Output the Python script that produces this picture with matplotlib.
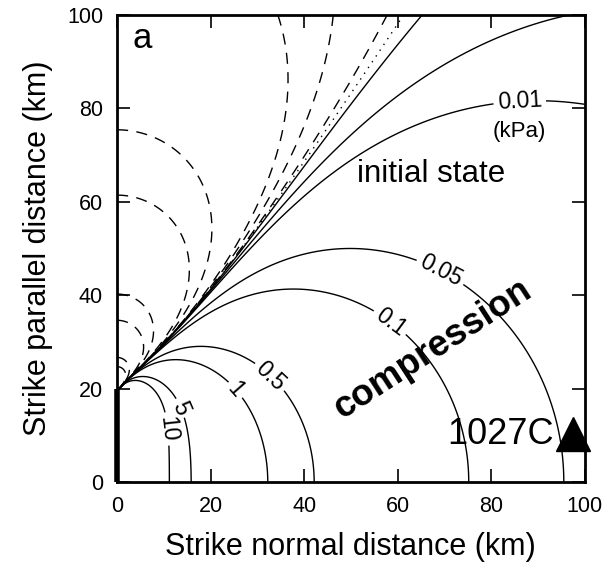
import numpy as np
import matplotlib
matplotlib.use("Agg")
import matplotlib.pyplot as plt

plt.rcParams['font.family'] = ['Liberation Sans', 'DejaVu Sans']

# ---------------- data ----------------
pos_levels = [0.001, 0.005, 0.01, 0.05, 0.1, 0.5, 1, 5, 10]          # kPa, compression
neg_levels = [-10, -5, -1, -0.5, -0.1, -0.05, -0.01, -0.005, -0.001]  # kPa, tension
zero_level = [0.0]
labelled_levels = [0.01, 0.05, 0.1, 0.5, 1, 5, 10]
label_spots_x = [85.8, 70.4, 59.7, 33.2, 26.3, 13.9, 9.8]
label_spots_y = [86.5, 47.5, 36.0, 23.1, 20.6, 16.0, 11.3]
unit_text = "(kPa)"
# dike (vertical, surface-breaking): strike-parallel extent, depth
dike_half_length = 20.0     # km, tip at y = 20
dike_depth = 1.0            # km
lame_ratio = 0.3            # lambda / mu
calib_x, calib_val = 11.2, 10.0   # 10 kPa contour crosses y=0 at ~11 km
station_name = "1027C"
station_x, station_y = 97.5, 10.3
ticks = [0, 20, 40, 60, 80, 100]


def okada_u(x, y, d, L, W, a):
    """Okada (1985) surface displacement, vertical tensile rectangle."""
    p = d
    q = y

    def f(xi, eta):
        R = np.sqrt(xi**2 + eta**2 + q**2)
        dt = eta
        I1 = -a / 2 * xi * q / (R + dt)**2
        I3 = a / 2 * (eta / (R + dt) + q * q / (R + dt)**2 - np.log(R + eta))
        ux = q**2 / (R * (R + eta)) - I3
        uy = (-dt * q / (R * (R + xi))
              - (xi * q / (R * (R + eta)) - np.arctan(xi * eta / (q * R))) - I1)
        return ux, uy

    A = f(x, p); B = f(x, p - W); C = f(x - L, p); D = f(x - L, p - W)
    return ((A[0] - B[0] - C[0] + D[0]) / (2 * np.pi),
            (A[1] - B[1] - C[1] + D[1]) / (2 * np.pi))


def mean_stress(X, Y):
    """Compressive mean (volumetric) stress change at the surface."""
    L = 2 * dike_half_length
    lam, mu = lame_ratio, 1.0
    a = mu / (lam + mu)
    h = 1e-3
    xo = Y + L / 2
    yo = X
    ux1, _ = okada_u(xo + h, yo, dike_depth, L, dike_depth, a)
    ux0, _ = okada_u(xo - h, yo, dike_depth, L, dike_depth, a)
    _, uy1 = okada_u(xo, yo + h, dike_depth, L, dike_depth, a)
    _, uy0 = okada_u(xo, yo - h, dike_depth, L, dike_depth, a)
    exx = (ux1 - ux0) / (2 * h)
    eyy = (uy1 - uy0) / (2 * h)
    return -(exx + eyy)


xg = np.linspace(0.02, 100, 700)
yg = np.linspace(0.0, 100, 700)
XX, YY = np.meshgrid(xg, yg)
scale = calib_val / mean_stress(np.array([calib_x]), np.array([0.0]))[0]
ZZ = mean_stress(XX, YY) * scale

# ---------------- figure ----------------
fig = plt.figure(figsize=(6.06, 5.74), dpi=100)
ax = fig.add_axes([0.193, 0.160, 0.772, 0.814])

lw = 1.0
plain_levels = [v for v in pos_levels if v not in labelled_levels]
ax.contour(XX, YY, ZZ, levels=plain_levels, colors='k', linewidths=lw,
           linestyles='solid')
label_texts = []
for lev, lx, ly in zip(labelled_levels, label_spots_x, label_spots_y):
    cs = ax.contour(XX, YY, ZZ, levels=[lev], colors='k', linewidths=lw,
                    linestyles='solid')
    label_texts += ax.clabel(cs, manual=[(lx, ly)], fmt=lambda v: f"{v:g}",
                             fontsize=16.5, inline=True, inline_spacing=4)
ax.contour(XX, YY, ZZ, levels=neg_levels, colors='k', linewidths=lw,
           linestyles=[(0, (8, 6))])
ax.contour(XX, YY, ZZ, levels=zero_level, colors='k', linewidths=lw,
           linestyles=[(0, (1, 4))])

# unit under the 0.01 label
ux_, uy_ = label_texts[0].get_position()
ax.text(ux_, uy_ - 6.4, unit_text, fontsize=16, ha='center', va='center')

# dike trace
ax.plot([0, 0], [0, dike_half_length], color='k', lw=4, clip_on=False,
        solid_capstyle='butt')

ax.text(5.4, 95.0, "a", fontsize=25, ha='center', va='center')
ax.text(51.3, 64.2, "initial state", fontsize=22.5, ha='left', va='baseline')
ax.text(67.5, 28.5, "compression", fontsize=26.5, fontweight='bold',
        rotation=33, ha='center', va='center', rotation_mode='anchor')
ax.text(93.3, station_y, station_name, fontsize=26, ha='right', va='center')
ax.plot([station_x], [station_y], marker='^', ms=24, color='k', clip_on=False,
        zorder=5)

ax.set_xlim(0, 100)
ax.set_ylim(0, 100)
ax.set_xticks(ticks)
ax.set_yticks(ticks)
ax.tick_params(direction='in', top=True, right=True, length=9.5, width=1.2,
               labelsize=15.5, pad=10)
for s in ax.spines.values():
    s.set_linewidth(2.0)
ax.set_xlabel("Strike normal distance (km)", fontsize=22, labelpad=11)
ax.set_ylabel("Strike parallel distance (km)", fontsize=22, labelpad=10)

fig.savefig("out.png", dpi=100)
